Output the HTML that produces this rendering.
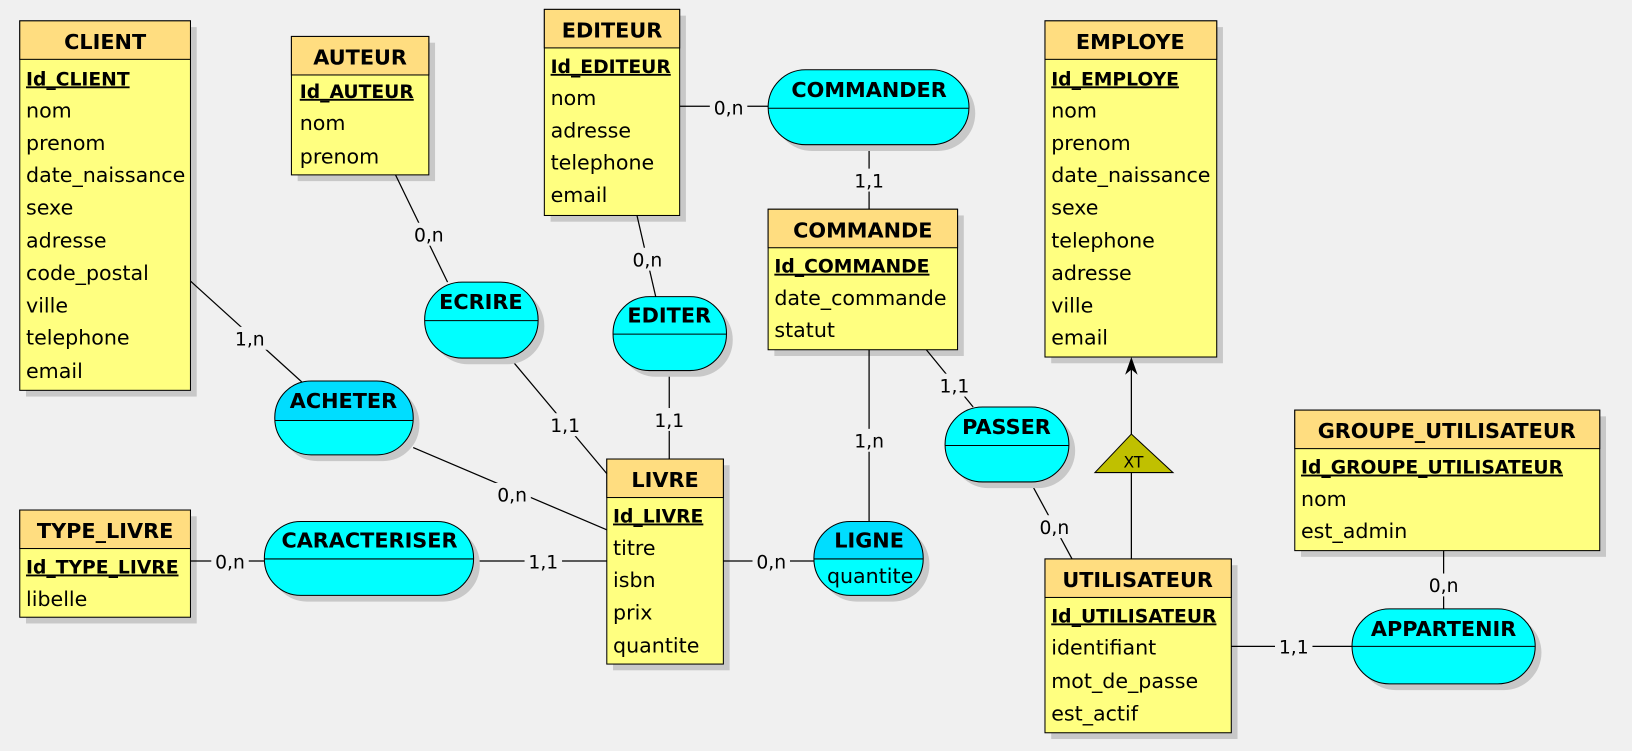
<!DOCTYPE html>
<html><head><meta charset="utf-8"><style>
html,body{margin:0;padding:0;background:#f0f0f0;width:1632px;height:751px;overflow:hidden}
svg text{font-family:"DejaVu Sans","Liberation Sans",sans-serif;font-size:19.8px;fill:#000}
.h{font-weight:bold;font-size:20px}
.k{font-weight:bold;text-decoration:underline;font-size:18px}
.l{font-size:18px}
</style></head><body>
<svg width="1632" height="751" viewBox="0 0 1568 721.5" xmlns="http://www.w3.org/2000/svg">
<!-- XT -->
<polygon points="1087,417 1052,454 1127,454" fill="#c0c000" stroke="#000"/>
<text x="1089" y="449" text-anchor="middle" style="font-size:15px">XT</text>

<!-- entities -->
<g id="ents">
<rect x="25" y="26" width="164" height="355" fill="#c8c8c8"/>
<rect x="19" y="20" width="164" height="355" fill="#ffff80" stroke="#000"/>
<rect x="19" y="20" width="164" height="37" fill="#ffdd80" stroke="#000"/>
<text class="h" x="101" y="47" text-anchor="middle">CLIENT</text>
<text class="k" x="25" y="82">Id_CLIENT</text>
<text x="25" y="113">nom</text><text x="25" y="144">prenom</text><text x="25" y="175">date_naissance</text><text x="25" y="206">sexe</text><text x="25" y="238">adresse</text><text x="25" y="269">code_postal</text><text x="25" y="300">ville</text><text x="25" y="331">telephone</text><text x="25" y="363">email</text>

<rect x="286" y="41" width="132" height="133" fill="#c8c8c8"/>
<rect x="280" y="35" width="132" height="133" fill="#ffff80" stroke="#000"/>
<rect x="280" y="35" width="132" height="37" fill="#ffdd80" stroke="#000"/>
<text class="h" x="346" y="62" text-anchor="middle">AUTEUR</text>
<text class="k" x="288" y="94">Id_AUTEUR</text><text x="288" y="125">nom</text><text x="288" y="157">prenom</text>

<rect x="529" y="15" width="130" height="198" fill="#c8c8c8"/>
<rect x="523" y="9" width="130" height="198" fill="#ffff80" stroke="#000"/>
<rect x="523" y="9" width="130" height="37" fill="#ffdd80" stroke="#000"/>
<text class="h" x="588" y="36" text-anchor="middle">EDITEUR</text>
<text class="k" x="529" y="70">Id_EDITEUR</text><text x="529" y="101">nom</text><text x="529" y="132">adresse</text><text x="529" y="163">telephone</text><text x="529" y="194">email</text>

<rect x="1010" y="26" width="165" height="323" fill="#c8c8c8"/>
<rect x="1004" y="20" width="165" height="323" fill="#ffff80" stroke="#000"/>
<rect x="1004" y="20" width="165" height="37" fill="#ffdd80" stroke="#000"/>
<text class="h" x="1086" y="47" text-anchor="middle">EMPLOYE</text>
<text class="k" x="1010" y="82">Id_EMPLOYE</text><text x="1010" y="113">nom</text><text x="1010" y="144">prenom</text><text x="1010" y="175">date_naissance</text><text x="1010" y="206">sexe</text><text x="1010" y="238">telephone</text><text x="1010" y="269">adresse</text><text x="1010" y="300">ville</text><text x="1010" y="331">email</text>

<rect x="744" y="207" width="182" height="135" fill="#c8c8c8"/>
<rect x="738" y="201" width="182" height="135" fill="#ffff80" stroke="#000"/>
<rect x="738" y="201" width="182" height="37" fill="#ffdd80" stroke="#000"/>
<text class="h" x="829" y="228" text-anchor="middle">COMMANDE</text>
<text class="k" x="744" y="262">Id_COMMANDE</text><text x="744" y="293">date_commande</text><text x="744" y="324">statut</text>

<rect x="589" y="447" width="112" height="197" fill="#c8c8c8"/>
<rect x="583" y="441" width="112" height="197" fill="#ffff80" stroke="#000"/>
<rect x="583" y="441" width="112" height="37" fill="#ffdd80" stroke="#000"/>
<text class="h" x="639" y="468" text-anchor="middle">LIVRE</text>
<text class="k" x="589" y="502">Id_LIVRE</text><text x="589" y="533">titre</text><text x="589" y="564">isbn</text><text x="589" y="595">prix</text><text x="589" y="627">quantite</text>

<rect x="25" y="496" width="164" height="103" fill="#c8c8c8"/>
<rect x="19" y="490" width="164" height="103" fill="#ffff80" stroke="#000"/>
<rect x="19" y="490" width="164" height="37" fill="#ffdd80" stroke="#000"/>
<text class="h" x="101" y="517" text-anchor="middle">TYPE_LIVRE</text>
<text class="k" x="25" y="551">Id_TYPE_LIVRE</text><text x="25" y="582">libelle</text>

<rect x="1010" y="543" width="179" height="167" fill="#c8c8c8"/>
<rect x="1004" y="537" width="179" height="167" fill="#ffff80" stroke="#000"/>
<rect x="1004" y="537" width="179" height="37" fill="#ffdd80" stroke="#000"/>
<text class="h" x="1093" y="564" text-anchor="middle">UTILISATEUR</text>
<text class="k" x="1010" y="598">Id_UTILISATEUR</text><text x="1010" y="629">identifiant</text><text x="1010" y="661">mot_de_passe</text><text x="1010" y="692">est_actif</text>

<rect x="1250" y="400" width="293" height="135" fill="#c8c8c8"/>
<rect x="1244" y="394" width="293" height="135" fill="#ffff80" stroke="#000"/>
<rect x="1244" y="394" width="293" height="37" fill="#ffdd80" stroke="#000"/>
<text class="h" x="1390" y="421" text-anchor="middle">GROUPE_UTILISATEUR</text>
<text class="k" x="1250" y="455">Id_GROUPE_UTILISATEUR</text><text x="1250" y="486">nom</text><text x="1250" y="517">est_admin</text>
</g>

<!-- lines -->
<g stroke="#000" stroke-width="1.2" fill="none">
<line x1="183" y1="270" x2="290" y2="367"/>
<line x1="380" y1="168" x2="430" y2="271"/>
<line x1="612" y1="207" x2="630" y2="285"/>
<line x1="653" y1="102" x2="738" y2="102"/>
<line x1="835" y1="139" x2="835" y2="201"/>
<line x1="490" y1="344" x2="583" y2="455"/>
<line x1="643" y1="356" x2="643" y2="441"/>
<line x1="397" y1="430" x2="583" y2="509"/>
<line x1="455" y1="539" x2="583" y2="539"/>
<line x1="183" y1="539" x2="254" y2="539"/>
<line x1="695" y1="539" x2="782" y2="539"/>
<line x1="835" y1="336" x2="835" y2="501"/>
<line x1="890" y1="336" x2="935" y2="391"/>
<line x1="990" y1="463" x2="1030" y2="537"/>
<line x1="1087" y1="537" x2="1087" y2="454"/>
<line x1="1087" y1="417" x2="1087" y2="350"/>
<line x1="1183" y1="621" x2="1299" y2="621"/>
<line x1="1387" y1="529" x2="1387" y2="585"/>
</g>
<polygon points="1087,343 1081,360 1087,355 1093,360" fill="#000"/>

<!-- associations -->
<g>
<rect x="744" y="73" width="193" height="72" rx="36" fill="#c8c8c8"/>
<rect x="738" y="67" width="193" height="72" rx="36" fill="#00ffff" stroke="#000"/>
<line x1="738" y1="104" x2="931" y2="104" stroke="#000"/>
<text class="h" x="835" y="93" text-anchor="middle">COMMANDER</text>

<rect x="414" y="277" width="109" height="73" rx="36" fill="#c8c8c8"/>
<rect x="408" y="271" width="109" height="73" rx="36" fill="#00ffff" stroke="#000"/>
<line x1="408" y1="308" x2="517" y2="308" stroke="#000"/>
<text class="h" x="462" y="297" text-anchor="middle">ECRIRE</text>

<rect x="595" y="291" width="109" height="71" rx="35" fill="#c8c8c8"/>
<rect x="589" y="285" width="109" height="71" rx="35" fill="#00ffff" stroke="#000"/>
<line x1="589" y1="321" x2="698" y2="321" stroke="#000"/>
<text class="h" x="643" y="310" text-anchor="middle">EDITER</text>

<rect x="270" y="372" width="133" height="71" rx="35" fill="#c8c8c8"/>
<path d="M299,366 H362 A35,35 0 0 1 397,401 V404 H264 V401 A35,35 0 0 1 299,366 Z" fill="#00ddff"/>
<path d="M264,404 H397 V402 A35,35 0 0 1 362,437 H299 A35,35 0 0 1 264,402 Z" fill="#00ffff"/>
<rect x="264" y="366" width="133" height="71" rx="35" fill="none" stroke="#000"/>
<line x1="264" y1="404" x2="397" y2="404" stroke="#000"/>
<text class="h" x="330" y="392" text-anchor="middle">ACHETER</text>

<rect x="914" y="397" width="119" height="72" rx="36" fill="#c8c8c8"/>
<rect x="908" y="391" width="119" height="72" rx="36" fill="#00ffff" stroke="#000"/>
<line x1="908" y1="428" x2="1027" y2="428" stroke="#000"/>
<text class="h" x="967" y="417" text-anchor="middle">PASSER</text>

<rect x="260" y="507" width="201" height="71" rx="35" fill="#c8c8c8"/>
<rect x="254" y="501" width="201" height="71" rx="35" fill="#00ffff" stroke="#000"/>
<line x1="254" y1="537" x2="455" y2="537" stroke="#000"/>
<text class="h" x="355" y="526" text-anchor="middle">CARACTERISER</text>

<rect x="788" y="507" width="105" height="71" rx="35" fill="#c8c8c8"/>
<path d="M817,501 H852 A35,35 0 0 1 887,536 V537 H782 V536 A35,35 0 0 1 817,501 Z" fill="#00ddff"/>
<path d="M782,537 H887 A35,35 0 0 1 852,572 H817 A35,35 0 0 1 782,537 Z" fill="#00ffff"/>
<rect x="782" y="501" width="105" height="71" rx="35" fill="none" stroke="#000"/>
<line x1="782" y1="537" x2="887" y2="537" stroke="#000"/>
<text class="h" x="835" y="526" text-anchor="middle">LIGNE</text>
<text x="836" y="560" text-anchor="middle">quantite</text>

<rect x="1305" y="591" width="176" height="72" rx="36" fill="#c8c8c8"/>
<rect x="1299" y="585" width="176" height="72" rx="36" fill="#00ffff" stroke="#000"/>
<line x1="1299" y1="621" x2="1475" y2="621" stroke="#000"/>
<text class="h" x="1387" y="611" text-anchor="middle">APPARTENIR</text>
</g>

<!-- labels -->
<g text-anchor="middle">
<rect x="222" y="314" width="36" height="22" fill="#f0f0f0"/><text class="l" x="240" y="332">1,n</text>
<rect x="394" y="214" width="36" height="22" fill="#f0f0f0"/><text class="l" x="412" y="232">0,n</text>
<rect x="604" y="238" width="36" height="22" fill="#f0f0f0"/><text class="l" x="622" y="256">0,n</text>
<rect x="682" y="92" width="36" height="22" fill="#f0f0f0"/><text class="l" x="700" y="110">0,n</text>
<rect x="817" y="162" width="36" height="22" fill="#f0f0f0"/><text class="l" x="835" y="180">1,1</text>
<rect x="525" y="397" width="36" height="22" fill="#f0f0f0"/><text class="l" x="543" y="415">1,1</text>
<rect x="625" y="392" width="36" height="22" fill="#f0f0f0"/><text class="l" x="643" y="410">1,1</text>
<rect x="474" y="464" width="36" height="22" fill="#f0f0f0"/><text class="l" x="492" y="482">0,n</text>
<rect x="504" y="528" width="36" height="22" fill="#f0f0f0"/><text class="l" x="522" y="546">1,1</text>
<rect x="203" y="528" width="36" height="22" fill="#f0f0f0"/><text class="l" x="221" y="546">0,n</text>
<rect x="723" y="528" width="36" height="22" fill="#f0f0f0"/><text class="l" x="741" y="546">0,n</text>
<rect x="817" y="412" width="36" height="22" fill="#f0f0f0"/><text class="l" x="835" y="430">1,n</text>
<rect x="899" y="359" width="36" height="22" fill="#f0f0f0"/><text class="l" x="917" y="377">1,1</text>
<rect x="995" y="495" width="36" height="22" fill="#f0f0f0"/><text class="l" x="1013" y="513">0,n</text>
<rect x="1225" y="610" width="36" height="22" fill="#f0f0f0"/><text class="l" x="1243" y="628">1,1</text>
<rect x="1369" y="551" width="36" height="22" fill="#f0f0f0"/><text class="l" x="1387" y="569">0,n</text>
</g>
</svg>
</body></html>
